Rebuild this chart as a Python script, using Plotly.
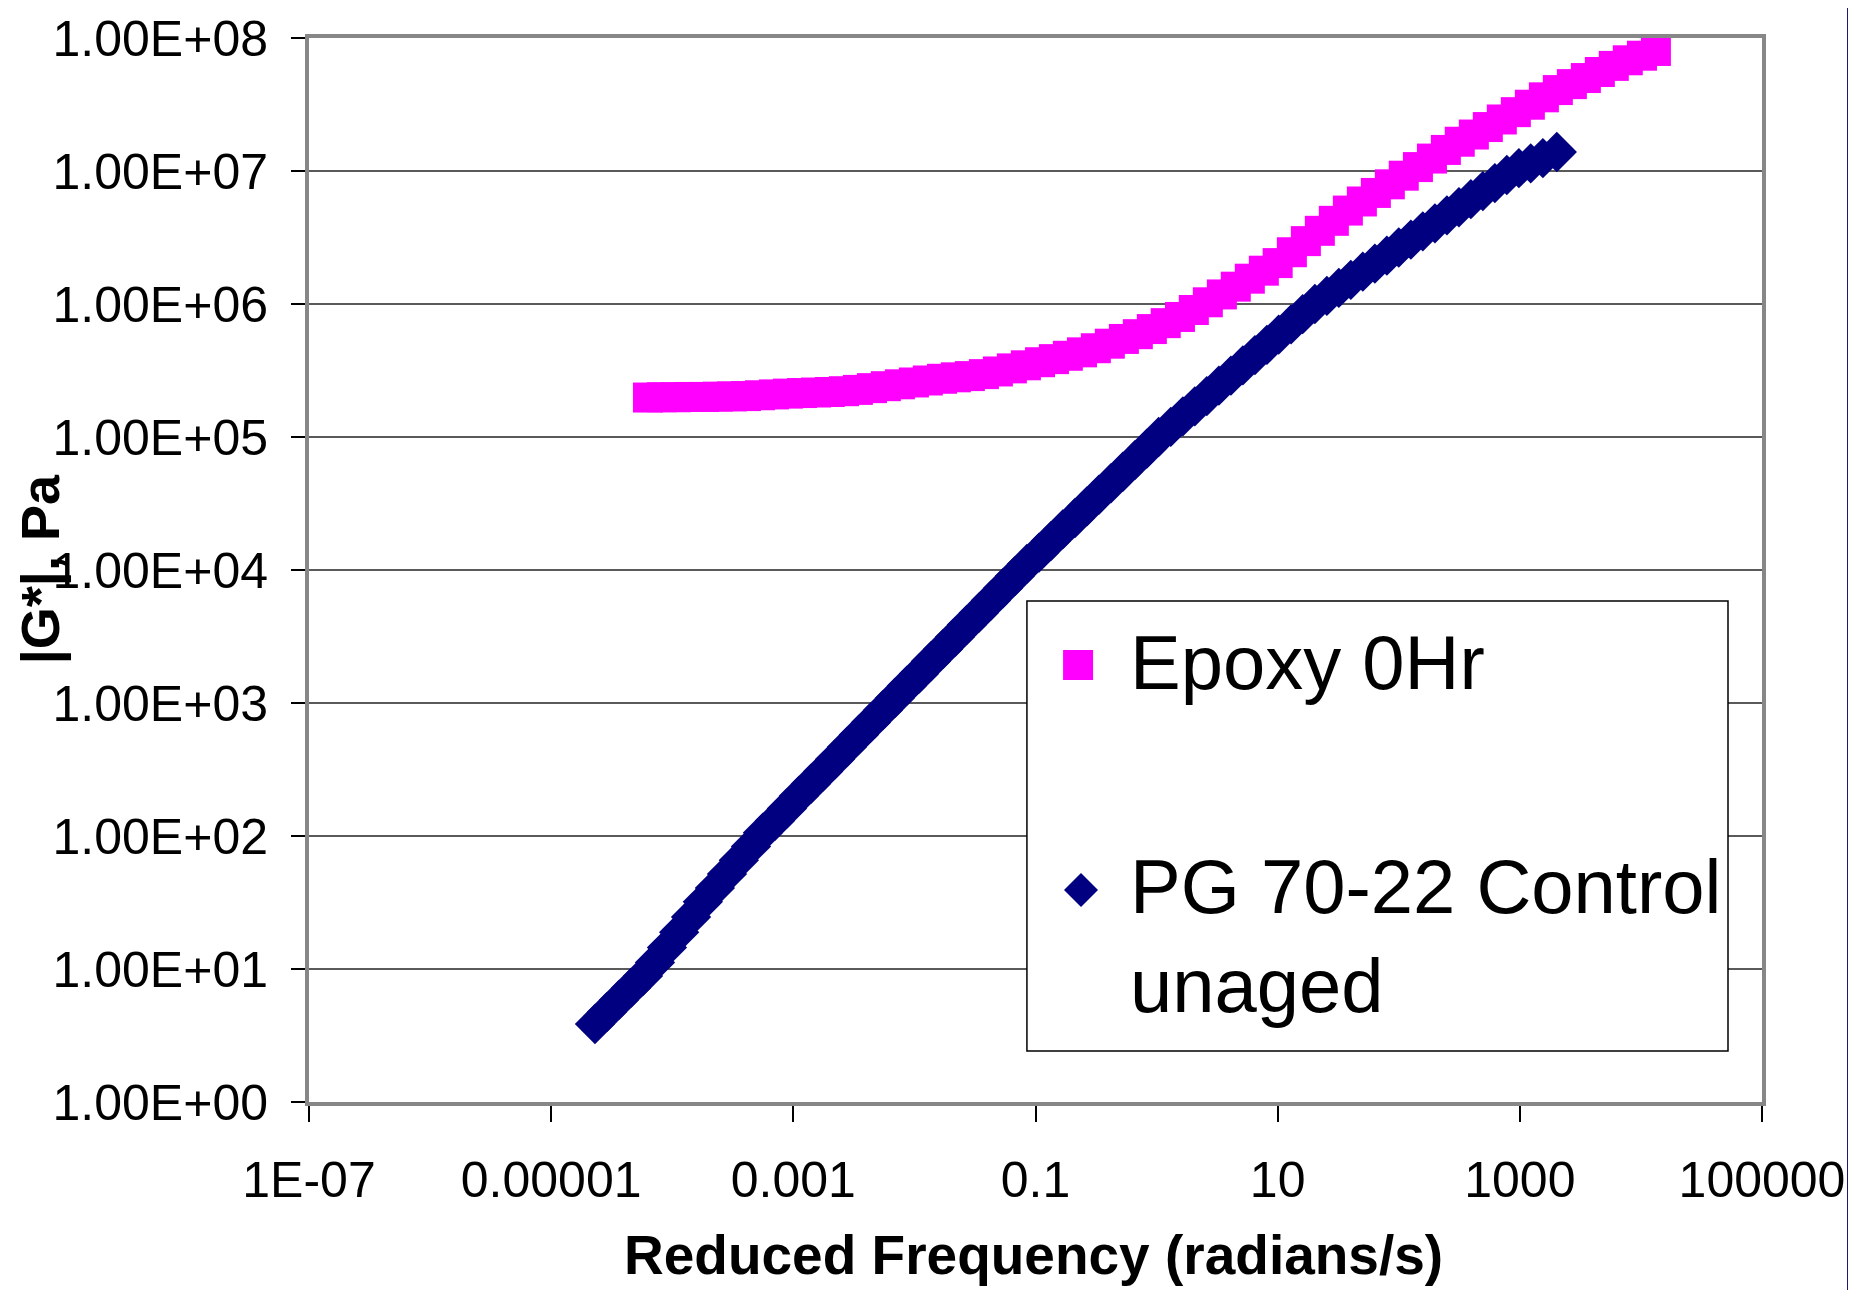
import plotly.graph_objects as go

#%% data
epoxy_name = "Epoxy 0Hr"
epoxy_freq = [6.30e-5, 8.21e-5, 1.07e-4, 1.40e-4, 1.83e-4, 2.38e-4, 3.11e-4, 4.06e-4, 5.30e-4, 6.91e-4,
              9.02e-4, 1.18e-3, 1.54e-3, 2.00e-3, 2.62e-3, 3.41e-3, 4.46e-3, 5.81e-3, 7.59e-3, 9.90e-3,
              1.29e-2, 1.69e-2, 2.20e-2, 2.87e-2, 3.75e-2, 4.89e-2, 6.38e-2, 8.33e-2, 0.109, 0.142,
              0.185, 0.242, 0.315, 0.411, 0.537, 0.700, 0.914, 1.19, 1.56, 2.03,
              2.65, 3.46, 4.51, 5.89, 7.69, 10.0, 13.1, 17.1, 22.3, 29.1,
              38.0, 49.6, 64.7, 84.4, 110, 144, 188, 245, 319, 417,
              544, 710, 927, 1210, 1580, 2060, 2690, 3510, 4580, 5970,
              7790, 10200, 13300]
epoxy_G = [1.98e5, 1.99e5, 1.99e5, 2.00e5, 2.00e5, 2.01e5, 2.02e5, 2.03e5, 2.06e5, 2.09e5,
           2.12e5, 2.14e5, 2.16e5, 2.18e5, 2.21e5, 2.26e5, 2.33e5, 2.41e5, 2.49e5, 2.57e5,
           2.66e5, 2.74e5, 2.81e5, 2.87e5, 2.97e5, 3.11e5, 3.28e5, 3.46e5, 3.65e5, 3.85e5,
           4.08e5, 4.33e5, 4.65e5, 5.03e5, 5.46e5, 5.93e5, 6.48e5, 7.18e5, 7.99e5, 9.01e5,
           1.03e6, 1.18e6, 1.35e6, 1.55e6, 1.78e6, 2.03e6, 2.45e6, 2.97e6, 3.55e6, 4.22e6,
           5.04e6, 5.90e6, 6.84e6, 7.94e6, 9.22e6, 1.07e7, 1.24e7, 1.44e7, 1.66e7, 1.88e7,
           2.14e7, 2.44e7, 2.77e7, 3.15e7, 3.58e7, 4.06e7, 4.50e7, 5.00e7, 5.55e7, 6.17e7,
           6.80e7, 7.36e7, 7.99e7]

pg_name = "PG 70-22 Control unaged"
pg_freq = [2.30e-5, 2.89e-5, 3.63e-5, 4.56e-5, 5.73e-5, 7.20e-5, 9.04e-5, 1.14e-4, 1.43e-4, 1.79e-4,
           2.25e-4, 2.83e-4, 3.55e-4, 4.47e-4, 5.61e-4, 7.05e-4, 8.85e-4, 1.11e-3, 1.40e-3, 1.76e-3,
           2.21e-3, 2.77e-3, 3.48e-3, 4.37e-3, 5.49e-3, 6.90e-3, 8.67e-3, 1.09e-2, 1.37e-2, 1.72e-2,
           2.16e-2, 2.71e-2, 3.41e-2, 4.28e-2, 5.38e-2, 6.76e-2, 8.49e-2, 0.107, 0.134, 0.168,
           0.212, 0.266, 0.334, 0.420, 0.527, 0.662, 0.832, 1.04, 1.31, 1.65,
           2.07, 2.60, 3.27, 4.11, 5.16, 6.49, 8.15, 10.2, 12.9, 16.1,
           20.3, 25.5, 32.0, 40.2, 50.5, 63.5, 79.8, 100, 126, 158,
           199, 250, 314, 394, 495, 622, 781, 982, 1230, 1550,
           2020]
pg_G = [3.86, 4.75, 5.85, 7.20, 8.86, 11.2, 14.5, 18.9, 24.6, 32.0,
        40.6, 51.7, 65.7, 83.5, 106, 130, 161, 200, 247, 305,
        377, 467, 578, 714, 883, 1090, 1350, 1660, 2060, 2540,
        3130, 3870, 4770, 5900, 7290, 9000, 1.11e4, 1.35e4, 1.65e4, 2.02e4,
        2.46e4, 3.01e4, 3.68e4, 4.49e4, 5.48e4, 6.70e4, 8.18e4, 1.00e5, 1.19e5, 1.43e5,
        1.70e5, 2.03e5, 2.43e5, 2.89e5, 3.45e5, 4.13e5, 4.93e5, 5.89e5, 7.02e5, 8.38e5,
        1.00e6, 1.15e6, 1.32e6, 1.52e6, 1.75e6, 2.01e6, 2.31e6, 2.66e6, 3.05e6, 3.52e6,
        4.04e6, 4.64e6, 5.34e6, 6.14e6, 7.06e6, 8.12e6, 9.33e6, 1.05e7, 1.14e7, 1.25e7,
        1.39e7]

x_tickvals = [1e-7, 1e-5, 1e-3, 1e-1, 10, 1000, 1e5]
x_ticktext = ["1E-07", "0.00001", "0.001", "0.1", "10", "1000", "100000"]
y_tickvals = [1, 10, 100, 1e3, 1e4, 1e5, 1e6, 1e7, 1e8]
y_ticktext = ["1.00E+00", "1.00E+01", "1.00E+02", "1.00E+03", "1.00E+04",
              "1.00E+05", "1.00E+06", "1.00E+07", "1.00E+08"]

FONT = "Arial, Liberation Sans, sans-serif"
MAGENTA = "#ff00ff"
NAVY = "#000080"

#%% figure
fig = go.Figure()
fig.add_trace(go.Scatter(x=pg_freq, y=pg_G, mode="markers", name=pg_name,
                         marker=dict(symbol="diamond", size=31, color=NAVY, line=dict(width=0))))
fig.add_trace(go.Scatter(x=epoxy_freq, y=epoxy_G, mode="markers", name=epoxy_name,
                         marker=dict(symbol="square", size=30, color=MAGENTA, line=dict(width=0))))

# page body has an 8px margin, so the figure is 8px smaller each way
fig.update_layout(
    width=1848, height=1282,
    margin=dict(l=301, r=94, t=30, b=188),
    paper_bgcolor="white", plot_bgcolor="white",
    showlegend=False,
    font=dict(family=FONT, color="black"),
)

fig.update_xaxes(type="log", range=[-7, 5], tickvals=x_tickvals, ticktext=x_ticktext,
                 tickfont=dict(size=50), ticks="outside", ticklen=16, tickwidth=1.5, tickcolor="black",
                 ticklabelstandoff=15, automargin=False,
                 showgrid=False, zeroline=False,
                 showline=True, linecolor="#878787", linewidth=4, mirror=True)
fig.update_yaxes(type="log", range=[0, 8], tickvals=y_tickvals, ticktext=y_ticktext,
                 tickfont=dict(size=50), ticks="outside", ticklen=14, tickwidth=1.5, tickcolor="black",
                 ticklabelstandoff=13, automargin=False,
                 showgrid=True, gridcolor="#5a5a5a", gridwidth=1.5, zeroline=False,
                 showline=True, linecolor="#878787", linewidth=4, mirror=True)

# axis titles (y title overlaps the tick labels in the original, so annotations)
fig.add_annotation(text="<b>Reduced Frequency (radians/s)</b>", xref="paper", yref="paper",
                   x=0.4983, y=-0.1435, xanchor="center", yanchor="middle", showarrow=False,
                   font=dict(size=55))
fig.add_annotation(text="<b>|G*|, Pa</b>", xref="paper", yref="paper", textangle=-90,
                   x=-0.1842, y=0.501, xanchor="center", yanchor="middle", showarrow=False,
                   font=dict(size=54))

#%% legend box drawn by hand so the keys can be as big as in the original
fig.add_shape(type="rect", xref="paper", yref="paper", x0=0.4941, x1=0.9766, y0=0.0479, y1=0.4709,
              fillcolor="white", line=dict(color="black", width=1.5), layer="above")
fig.add_shape(type="rect", xref="paper", yref="paper", xsizemode="pixel", ysizemode="pixel",
              xanchor=0.5293, yanchor=0.4107, x0=-15, x1=15, y0=-15, y1=15,
              fillcolor=MAGENTA, line=dict(width=0), layer="above")
fig.add_shape(type="path", xref="paper", yref="paper", xsizemode="pixel", ysizemode="pixel",
              xanchor=0.5313, yanchor=0.1992, path="M -17 0 L 0 17 L 17 0 L 0 -17 Z",
              fillcolor=NAVY, line=dict(width=0), layer="above")
fig.add_annotation(text=epoxy_name, xref="paper", yref="paper", x=0.5637, y=0.4131,
                   xanchor="left", yanchor="middle", showarrow=False, font=dict(size=76))
fig.add_annotation(text=pg_name.replace(" unaged", "<br>unaged"), xref="paper", yref="paper",
                   x=0.5637, y=0.156, xanchor="left", yanchor="middle", align="left",
                   showarrow=False, font=dict(size=76))

# slide edge visible at the right of the original picture
fig.add_shape(type="rect", xref="paper", yref="paper", x0=1.0592, x1=1.2, y0=-0.3, y1=1.2,
              fillcolor="#3636d6", line=dict(width=0), layer="above")
fig.add_shape(type="line", xref="paper", yref="paper", x0=1.0594, x1=1.0594, y0=-0.3, y1=1.2,
              line=dict(color="#0c0c70", width=2.5), layer="above")

fig.write_html("out.html")
